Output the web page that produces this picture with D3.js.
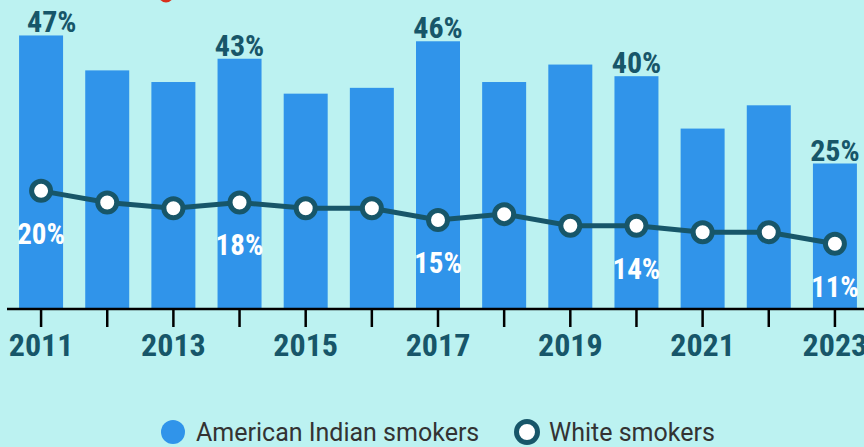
<!DOCTYPE html>
<html>
<head>
<meta charset="utf-8">
<script src="https://cdn.jsdelivr.net/npm/d3@7"></script>
<style>
  html, body { margin: 0; padding: 0; background: #bcf2f1; }
  svg { display: block; font-family: "Roboto Condensed", Roboto, "Noto Sans", sans-serif; }
</style>
</head>
<body>
<div id="chart"></div>
<script>
// data
var years = [2011, 2012, 2013, 2014, 2015, 2016, 2017, 2018, 2019, 2020, 2021, 2022, 2023];
var indianSmokers = [47, 41, 39, 43, 37, 38, 46, 39, 42, 40, 31, 35, 25];
var whiteSmokers = [20.3, 18.3, 17.3, 18.3, 17.3, 17.3, 15.3, 16.3, 14.3, 14.3, 13.2, 13.2, 11.2];
var labelledYears = [2011, 2014, 2017, 2020, 2023];
var tickLabelYears = [2011, 2013, 2015, 2017, 2019, 2021, 2023];

var width = 864;
var height = 447;
var barColor = '#3094ea';
var lineColor = '#175669';
var condensed = '"Roboto Condensed", Roboto, sans-serif';

var svg = d3.select('#chart').append('svg')
  .attr('width', width)
  .attr('height', height);

svg.append('rect')
  .attr('width', width)
  .attr('height', height)
  .attr('fill', '#bcf2f1');

// bit of a red marker poking in from above
svg.append('circle')
  .attr('cx', 166)
  .attr('cy', -5)
  .attr('r', 7.5)
  .attr('fill', '#d9301c');

var x = d3.scaleBand()
  .domain(years)
  .range([8, 868])
  .paddingInner(0.335)
  .paddingOuter(0.1675);

var y = d3.scaleLinear()
  .domain([0, 50])
  .range([309, 18]);

function cx(d) { return x(d) + x.bandwidth() / 2; }

svg.selectAll('rect.bar')
  .data(years)
  .enter()
  .append('rect')
  .attr('class', 'bar')
  .attr('x', function (d) { return x(d); })
  .attr('width', x.bandwidth())
  .attr('y', function (d, i) { return y(indianSmokers[i]); })
  .attr('height', function (d, i) { return y(0) - y(indianSmokers[i]); })
  .attr('fill', barColor);

// axis
var axis = d3.axisBottom(x)
  .tickSize(18)
  .tickSizeOuter(0)
  .tickFormat(function (d) { return tickLabelYears.indexOf(d) >= 0 ? d : ''; });

var gx = svg.append('g')
  .attr('transform', 'translate(0,' + y(0) + ')')
  .call(axis);

gx.select('.domain').remove();
gx.append('line')
  .attr('x1', 7)
  .attr('x2', width)
  .attr('stroke', '#000')
  .attr('stroke-width', 2.5);
gx.selectAll('.tick line')
  .attr('stroke', '#000')
  .attr('stroke-width', 2.5);
gx.selectAll('.tick text')
  .attr('y', 47)
  .attr('dy', 0)
  .attr('fill', lineColor)
  .attr('font-size', 32)
  .attr('font-weight', 'bold')
  .attr('font-family', condensed);

// white smokers line
var line = d3.line()
  .x(function (d, i) { return cx(years[i]); })
  .y(function (d) { return y(d); });

svg.append('path')
  .datum(whiteSmokers)
  .attr('d', line)
  .attr('fill', 'none')
  .attr('stroke', lineColor)
  .attr('stroke-width', 5);

svg.selectAll('circle.pt')
  .data(whiteSmokers)
  .enter()
  .append('circle')
  .attr('class', 'pt')
  .attr('cx', function (d, i) { return cx(years[i]); })
  .attr('cy', function (d) { return y(d); })
  .attr('r', 9.5)
  .attr('fill', '#fff')
  .attr('stroke', lineColor)
  .attr('stroke-width', 5);

// value labels
var pct = function (d) { return d3.format('.0f')(d) + '%'; };
var idx = labelledYears.map(function (yr) { return years.indexOf(yr); });

svg.selectAll('text.barlabel')
  .data(idx)
  .enter()
  .append('text')
  .attr('class', 'barlabel')
  .attr('x', function (i) { return cx(years[i]); })
  .attr('y', function (i) { return y(indianSmokers[i]) - 3; })
  .attr('text-anchor', 'middle')
  .attr('font-size', 30)
  .attr('font-weight', 'bold')
  .attr('font-family', condensed)
  .attr('fill', lineColor)
  .text(function (i) { return pct(indianSmokers[i]); })
  .each(function () {
    // keep the label inside the plot edges
    var b = this.getBBox();
    var shift = 0;
    if (b.x < 27) shift = 27 - b.x;
    if (b.x + b.width > 863) shift = 863 - (b.x + b.width);
    d3.select(this).attr('x', +d3.select(this).attr('x') + shift);
  });

svg.selectAll('text.ptlabel')
  .data(idx)
  .enter()
  .append('text')
  .attr('class', 'ptlabel')
  .attr('x', function (i) { return cx(years[i]); })
  .attr('y', function (i) { return y(whiteSmokers[i]) + 53; })
  .attr('text-anchor', 'middle')
  .attr('font-size', 29)
  .attr('font-weight', 'bold')
  .attr('font-family', condensed)
  .attr('fill', '#fff')
  .text(function (i) { return pct(whiteSmokers[i]); });

// legend
var legend = svg.append('g').attr('font-family', 'Roboto, sans-serif');
legend.append('circle')
  .attr('cx', 173).attr('cy', 432).attr('r', 12)
  .attr('fill', barColor);
legend.append('text')
  .attr('x', 196).attr('y', 441)
  .attr('font-size', 25)
  .attr('fill', '#333')
  .text('American Indian smokers');
legend.append('circle')
  .attr('cx', 527).attr('cy', 432).attr('r', 10.5)
  .attr('fill', '#fff')
  .attr('stroke', lineColor)
  .attr('stroke-width', 5);
legend.append('text')
  .attr('x', 549).attr('y', 441)
  .attr('font-size', 25)
  .attr('fill', '#333')
  .text('White smokers');
</script>
</body>
</html>
